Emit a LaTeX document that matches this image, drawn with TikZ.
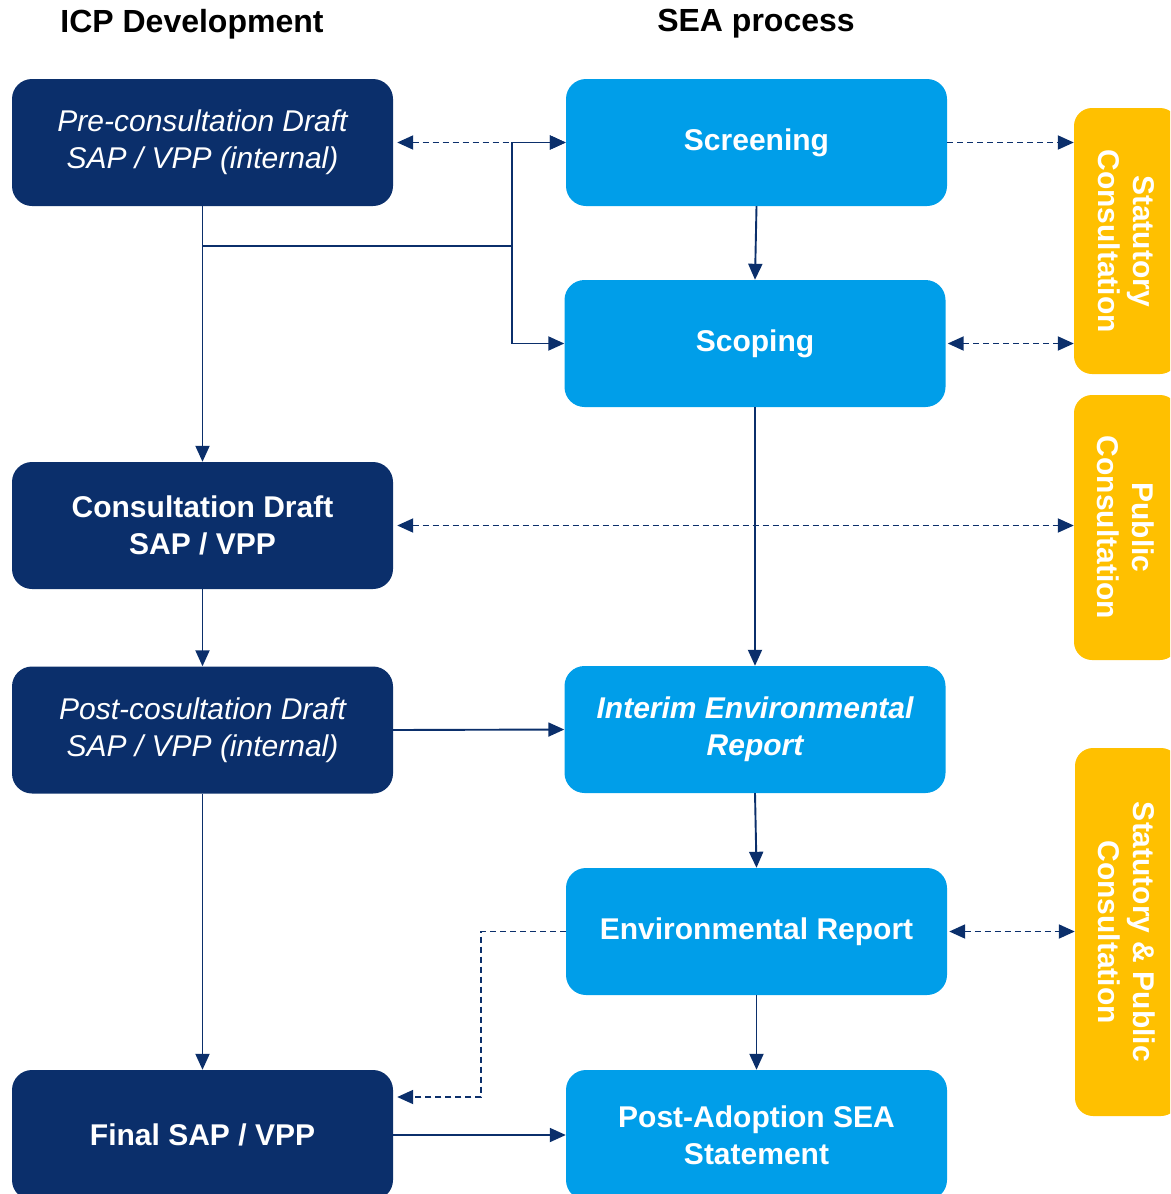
\documentclass[tikz,border=0pt]{standalone}
\usepackage{fontspec}
\setmainfont{Liberation Sans}
\usetikzlibrary{arrows.meta}
\definecolor{icpnavy}{RGB}{11,47,107}
\definecolor{seablue}{RGB}{0,158,233}
\definecolor{consorange}{RGB}{255,192,0}
\tikzset{
  icpbox/.style={fill=icpnavy, text=white, rounded corners=20pt, minimum width=381pt, minimum height=127pt, align=center, inner sep=0pt, font=\fontsize{30}{37}\selectfont},
  seabox/.style={fill=seablue, text=white, rounded corners=20pt, minimum width=381pt, minimum height=127pt, align=center, inner sep=0pt, font=\fontsize{30}{37}\selectfont\bfseries},
  consbox/.style={fill=consorange, text=white, rounded corners=18pt, minimum height=104pt, align=center, inner sep=0pt, rotate=-90, font=\fontsize{30}{35}\selectfont\bfseries},
  heading/.style={font=\fontsize{32}{36}\selectfont\bfseries, inner sep=0pt},
  flow/.style={icpnavy, line width=1.9pt, -{Triangle[length=16pt, width=14pt]}},
  feed/.style={icpnavy, line width=1.9pt, dash pattern=on 6pt off 4pt, -{Triangle[length=16pt, width=14pt]}},
  feedboth/.style={icpnavy, line width=1.9pt, dash pattern=on 6pt off 4pt, {Triangle[length=16pt, width=14pt]}-{Triangle[length=16pt, width=14pt]}}
}

\begin{document}
\begin{tikzpicture}[x=1pt, y=-1pt]
\clip (0,0) rectangle (1170,1194);
\node[heading] (icphead) at (192,24) {ICP Development};
\node[heading] (seahead) at (756,24) {SEA process};
\node[icpbox] (pre) at (202.5,142.5) {\itshape Pre-consultation Draft\\\itshape SAP / VPP (internal)};
\node[icpbox] (consult) at (202.5,525.5) {\bfseries Consultation Draft\\\bfseries SAP / VPP};
\node[icpbox] (post) at (202.5,730) {\itshape Post-cosultation Draft\\\itshape SAP / VPP (internal)};
\node[icpbox, minimum height=130pt] (final) at (202.5,1135) {\bfseries Final SAP / VPP};
\node[seabox] (screen) at (756.5,142.5) {Screening};
\node[seabox] (scoping) at (755,343.5) {Scoping};
\node[seabox] (interim) at (755,729.5) {\itshape Interim Environmental\\\itshape Report};
\node[seabox] (envrep) at (756.5,931.5) {Environmental Report};
\node[seabox, minimum height=130pt] (postad) at (756.5,1135) {Post-Adoption SEA\\Statement};
\node[consbox, minimum width=266pt] (stat) at (1126,241) {Statutory\\Consultation};
\node[consbox, minimum width=265pt] (public) at (1126,527.5) {Public\\Consultation};
\node[consbox, minimum width=368pt] (stpub) at (1127,932) {Statutory \& Public\\Consultation};
\coordinate (fork) at (512,246);
\coordinate (bend) at (481,1097);
\draw[feedboth] ([xshift=4pt]pre.east) -- (screen.west);
\draw[icpnavy, line width=1.9pt] (pre.south |- fork) -- (fork);
\draw[flow] (fork) |- (screen.west);
\draw[flow] (fork) |- (scoping.west);
\draw[flow] (pre.south) -- (consult.north);
\draw[flow] (screen.south) -- (scoping.north);
\draw[feed] (screen.east) -- (screen.east -| stat.south);
\draw[feedboth] ([xshift=2pt]scoping.east) -- (scoping.east -| stat.south);
\draw[feedboth] ([xshift=4pt]consult.east) -- (consult.east -| public.south);
\draw[flow] (scoping.south) -- (interim.north);
\draw[flow] (consult.south) -- (post.north);
\draw[flow] (post.east) -- (interim.west);
\draw[flow] (post.south) -- (final.north);
\draw[flow] (interim.south) -- (envrep.north);
\draw[feedboth] ([xshift=2pt]envrep.east) -- (envrep.east -| stpub.south);
\draw[feed] (envrep.west) -| (bend) -- ([xshift=4pt]bend -| final.east);
\draw[flow] (final.east |- postad.west) -- (postad.west);
\draw[flow] (envrep.south) -- (postad.north);
\end{tikzpicture}
\end{document}
